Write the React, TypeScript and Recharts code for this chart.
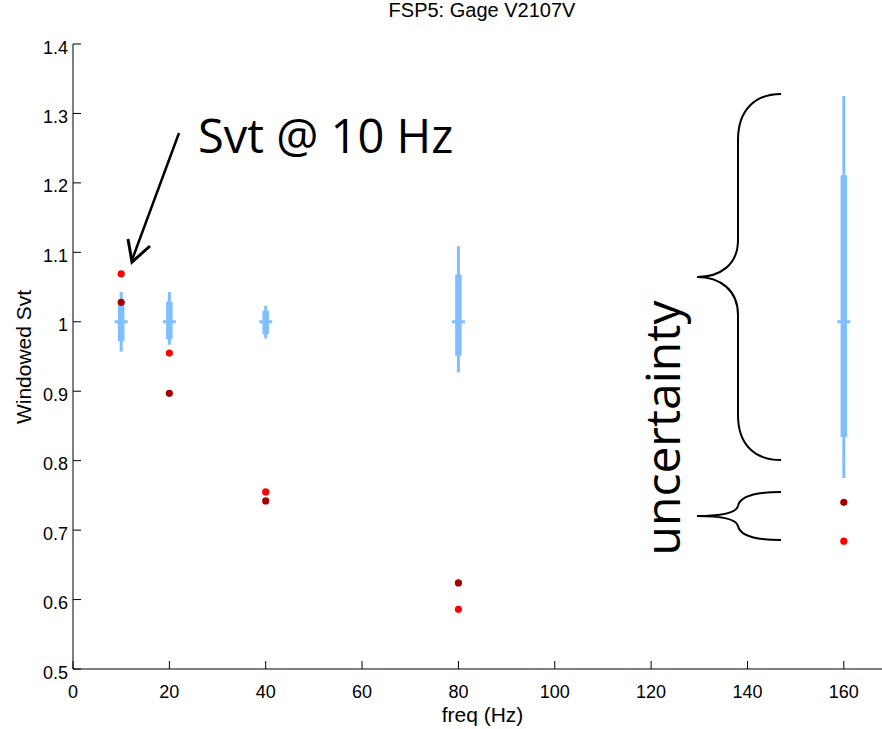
import { ComposedChart, Scatter, XAxis, YAxis, ErrorBar } from "recharts";

// measured window values per frequency
const FREQS = [10, 20, 40, 80, 160];
const CENTER = [1, 1, 1, 1, 1];
const WHISKER_LO = [0.957, 0.967, 0.976, 0.927, 0.775];
const WHISKER_HI = [1.043, 1.043, 1.023, 1.109, 1.325];
const BOX_LO = [0.972, 0.975, 0.982, 0.951, 0.834];
const BOX_HI = [1.025, 1.029, 1.016, 1.068, 1.211];
const SVT_RED = [1.069, 0.955, 0.755, 0.586, 0.684];
const SVT_DARK = [1.028, 0.897, 0.742, 0.624, 0.74];

const X_TICKS = [0, 20, 40, 60, 80, 100, 120, 140, 160];
const Y_TICKS = [0.5, 0.6, 0.7, 0.8, 0.9, 1, 1.1, 1.2, 1.3, 1.4];

const BLUE = "#80bfff";
const RED = "#ff0000";
const DARK_RED = "#a50000";
const AXIS_FONT = "'Liberation Sans', Arial, Helvetica, sans-serif";
const NOTE_FONT = "'Open Sans', sans-serif";

const spread = FREQS.map((f, i) => ({
  f,
  c: CENTER[i],
  whisker: [CENTER[i] - WHISKER_LO[i], WHISKER_HI[i] - CENTER[i]],
  box: [CENTER[i] - BOX_LO[i], BOX_HI[i] - CENTER[i]],
}));
const redPts = FREQS.map((f, i) => ({ f, v: SVT_RED[i] }));
const darkPts = FREQS.map((f, i) => ({ f, v: SVT_DARK[i] }));

function fmtY(v: number): string {
  return String(Number(v.toFixed(1)));
}

function YTick(props: any) {
  const { x, y, payload } = props;
  return (
    <text x={x} y={y + 9.5} textAnchor="end" fontSize={18} fontFamily={AXIS_FONT} fill="#000">
      {fmtY(payload.value)}
    </text>
  );
}

function XTick(props: any) {
  const { x, payload } = props;
  return (
    <text x={x} y={698} textAnchor="middle" fontSize={18} fontFamily={AXIS_FONT} fill="#000">
      {payload.value}
    </text>
  );
}

export default function App() {
  return (
    <div style={{ position: "absolute", left: 0, top: 0, width: 882, height: 729, overflow: "hidden", background: "#fff" }}>
      <ComposedChart width={900} height={729} margin={{ top: 44, right: 8, bottom: 0, left: 0 }}>
        <XAxis
          type="number"
          dataKey="f"
          domain={[0, 170]}
          ticks={X_TICKS}
          height={60}
          stroke="#000"
          tickSize={-8}
          tickMargin={0}
          tick={<XTick />}
          label={{ value: "freq (Hz)", position: "insideBottom", offset: 7, fontSize: 21, fontFamily: AXIS_FONT, fill: "#000" }}
        />
        <YAxis
          type="number"
          domain={[0.5, 1.4]}
          ticks={Y_TICKS}
          width={73}
          stroke="#000"
          tickSize={-8}
          tickMargin={13}
          tick={<YTick />}
        />
        <Scatter
          data={spread}
          dataKey="c"
          isAnimationActive={false}
          shape={(p: any) => <rect x={p.cx - 6.5} y={p.cy - 1.5} width={13} height={3} fill={BLUE} />}
        >
          <ErrorBar dataKey="whisker" direction="y" width={0} strokeWidth={3} stroke={BLUE} isAnimationActive={false} />
          <ErrorBar dataKey="box" direction="y" width={0} strokeWidth={6.5} stroke={BLUE} isAnimationActive={false} />
        </Scatter>
        <Scatter
          data={redPts}
          dataKey="v"
          isAnimationActive={false}
          shape={(p: any) => <circle cx={p.cx} cy={p.cy} r={3.6} fill={RED} />}
        />
        <Scatter
          data={darkPts}
          dataKey="v"
          isAnimationActive={false}
          shape={(p: any) => <circle cx={p.cx} cy={p.cy} r={3.6} fill={DARK_RED} />}
        />
      </ComposedChart>

      {/* title, y label and the slide annotations */}
      <svg width={882} height={729} style={{ position: "absolute", left: 0, top: 0, pointerEvents: "none" }}>
        <text x={482} y={17} textAnchor="middle" fontSize={20} fontFamily={AXIS_FONT} fill="#000">
          FSP5: Gage V2107V
        </text>
        <text
          transform="translate(31,357) rotate(-90)"
          textAnchor="middle"
          fontSize={21}
          fontFamily={AXIS_FONT}
          fill="#000"
        >
          Windowed Svt
        </text>

        <text x={198} y={153} fontSize={47} fontFamily={NOTE_FONT} fill="#000">
          Svt @ 10 Hz
        </text>
        <line x1={179} y1={133} x2={132} y2={260} stroke="#000" strokeWidth={2.5} />
        <polyline points="128,239 132,262 150,246" fill="none" stroke="#000" strokeWidth={3} />

        <text
          transform="translate(680,428) rotate(-90)"
          textAnchor="middle"
          fontSize={48}
          fontFamily={NOTE_FONT}
          fill="#000"
        >
          uncertainty
        </text>
        <path
          d="M781,94 C755,94 738,110 738,140 L738,240 C738,265 720,277 697,277 C720,277 738,290 738,315 L738,415 C738,445 755,460 781,460"
          fill="none"
          stroke="#000"
          strokeWidth={2}
        />
        <path
          d="M781,492 C755,492 740,496 738,506 C736,514 715,516 697,516 C715,516 736,518 738,526 C740,536 755,540 781,540"
          fill="none"
          stroke="#000"
          strokeWidth={2}
        />
      </svg>
    </div>
  );
}
